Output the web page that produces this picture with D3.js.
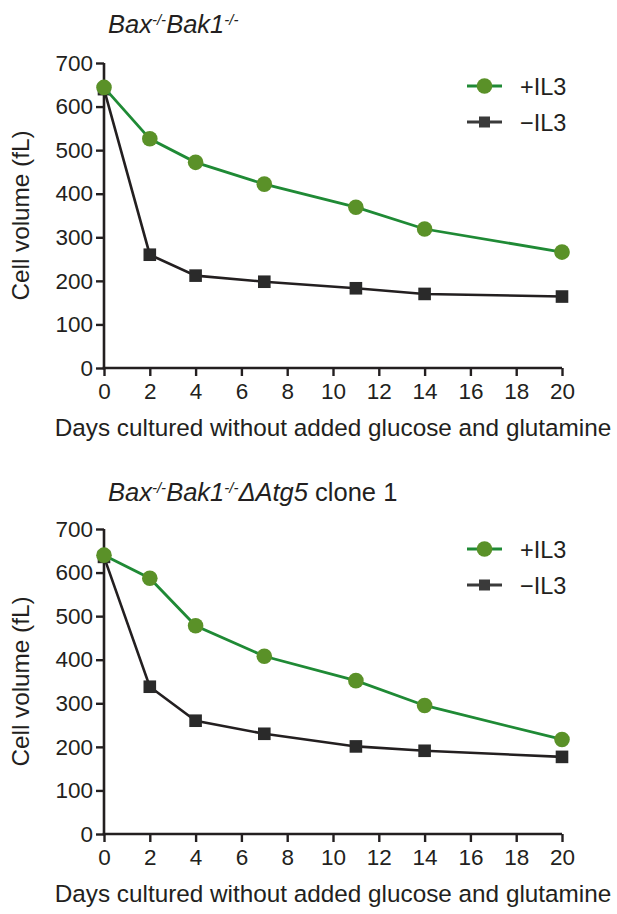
<!DOCTYPE html>
<html>
<head>
<meta charset="utf-8">
<script src="https://cdn.jsdelivr.net/npm/d3@7"></script>
<style>
  html, body { margin: 0; padding: 0; background: #fff; }
  svg text { font-family: "Liberation Sans", Arial, Helvetica, sans-serif; fill: #231f20; }
</style>
</head>
<body>
<svg id="fig" width="617" height="914"></svg>
<script>
// Days in culture (x values)
const days = [0, 2, 4, 7, 11, 14, 20];
const xTicks = [0, 2, 4, 6, 8, 10, 12, 14, 16, 18, 20];
const yTicks = [0, 100, 200, 300, 400, 500, 600, 700];

// Cell volume (fL), Bax-/-Bak1-/-
const wtPlusIL3 = [644, 526, 472, 422, 369, 319, 266];
const wtMinusIL3 = [640, 260, 212, 198, 183, 170, 164];

// Cell volume (fL), Bax-/-Bak1-/- ΔAtg5 clone 1
const atg5PlusIL3 = [640, 587, 478, 408, 352, 295, 217];
const atg5MinusIL3 = [636, 338, 260, 230, 201, 191, 177];

const seriesNames = ["+IL3", "\u2212IL3"];

const GREEN_LINE = "#1f8a35";
const GREEN_FILL = "#5a9128";
const DARK = "#231f20";

const svg = d3.select("#fig");

function drawPanel(opts) {
  const { top, plus, minus, titleParts, legendY, titleY } = opts;
  const left = 104, right = 562, y0 = top + 305, y700 = top;

  const x = d3.scaleLinear().domain([0, 20]).range([left, right]);
  const y = d3.scaleLinear().domain([0, 700]).range([y0, y700]);

  const g = svg.append("g");

  // title with superscripts
  const t = g.append("text").attr("x", 108).attr("y", titleY)
    .attr("font-size", 25.5);
  titleParts.forEach(p => {
    const ts = t.append("tspan").text(p.text);
    if (p.italic) ts.attr("font-style", "italic");
    if (p.sup) ts.attr("font-size", 15).attr("baseline-shift", "super");
  });

  // axes
  const xAxis = d3.axisBottom(x).tickValues(xTicks).tickSize(8).tickSizeOuter(0).tickPadding(7);
  const yAxis = d3.axisLeft(y).tickValues(yTicks).tickSize(8).tickSizeOuter(0).tickPadding(3);

  const gx = g.append("g").attr("transform", `translate(0,${y0})`).call(xAxis);
  const gy = g.append("g").attr("transform", `translate(${left},0)`).call(yAxis);
  [gx, gy].forEach(a => {
    a.select(".domain").attr("stroke", DARK).attr("stroke-width", 2.6);
    a.selectAll(".tick line").attr("stroke", DARK).attr("stroke-width", 2.4);
    a.selectAll(".tick text").attr("font-size", 22.5).attr("fill", "#231f20")
      .style("font-family", '"Liberation Sans", Arial, sans-serif');
  });
  // y-axis extends over the x-axis line
  gy.select(".domain").attr("d", `M0,${y700}V${y0 + 1.3}`);
  gx.select(".domain").attr("d", `M${left - 1.3},0H${right}`);

  // axis titles
  g.append("text").attr("x", 333).attr("y", y0 + 68)
    .attr("text-anchor", "middle").attr("font-size", 24.3)
    .text("Days cultured without added glucose and glutamine");
  g.append("text")
    .attr("transform", `translate(29,${(y0 + y700) / 2}) rotate(-90)`)
    .attr("text-anchor", "middle").attr("font-size", 24.3)
    .text("Cell volume (fL)");

  const line = d3.line().x((d, i) => x(days[i])).y(d => y(d));

  // −IL3 series
  g.append("path").datum(minus).attr("d", line)
    .attr("fill", "none").attr("stroke", DARK).attr("stroke-width", 2.6);
  g.selectAll(".sq").data(minus).enter().append("rect")
    .attr("x", (d, i) => x(days[i]) - 6.3).attr("y", d => y(d) - 6.3)
    .attr("width", 12.6).attr("height", 12.6).attr("fill", "#2a2a2a");

  // +IL3 series
  g.append("path").datum(plus).attr("d", line)
    .attr("fill", "none").attr("stroke", GREEN_LINE).attr("stroke-width", 2.8);
  g.selectAll(".ci").data(plus).enter().append("circle")
    .attr("cx", (d, i) => x(days[i])).attr("cy", d => y(d)).attr("r", 7.8)
    .attr("fill", GREEN_FILL);

  // legend
  const lg = g.append("g");
  lg.append("line").attr("x1", 467).attr("x2", 502).attr("y1", legendY).attr("y2", legendY)
    .attr("stroke", GREEN_LINE).attr("stroke-width", 2.8);
  lg.append("circle").attr("cx", 484.5).attr("cy", legendY).attr("r", 7.8).attr("fill", GREEN_FILL);
  lg.append("line").attr("x1", 467).attr("x2", 502).attr("y1", legendY + 36).attr("y2", legendY + 36)
    .attr("stroke", "#3a3a3a").attr("stroke-width", 2.8);
  lg.append("rect").attr("x", 479).attr("y", legendY + 36 - 5.5).attr("width", 11).attr("height", 11)
    .attr("fill", "#3a3a3a");
  lg.selectAll(".lt").data(seriesNames).enter().append("text")
    .attr("x", 520).attr("y", (d, i) => legendY + i * 36 + 8.5)
    .attr("font-size", 23.5).text(d => d);
}

drawPanel({
  top: 63,
  plus: wtPlusIL3,
  minus: wtMinusIL3,
  legendY: 86,
  titleY: 33,
  titleParts: [
    { text: "Bax", italic: true }, { text: "-/-", italic: true, sup: true },
    { text: "Bak1", italic: true }, { text: "-/-", italic: true, sup: true }
  ]
});

drawPanel({
  top: 529,
  plus: atg5PlusIL3,
  minus: atg5MinusIL3,
  legendY: 549,
  titleY: 501,
  titleParts: [
    { text: "Bax", italic: true }, { text: "-/-", italic: true, sup: true },
    { text: "Bak1", italic: true }, { text: "-/-", italic: true, sup: true },
    { text: "\u0394Atg5", italic: true }, { text: " clone 1" }
  ]
});
</script>
</body>
</html>
